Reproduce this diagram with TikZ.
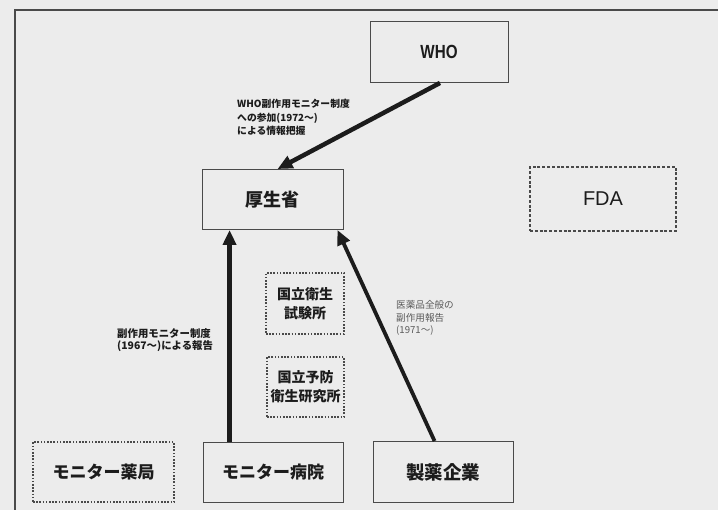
\documentclass[tikz,border=0pt]{standalone}
\usepackage{fontspec}
\setmainfont{Liberation Sans}
\newfontfamily\jp{Noto Sans CJK JP}
\usetikzlibrary{arrows.meta,calc}
\definecolor{paper}{HTML}{ECECEC}
\definecolor{ink}{HTML}{1C1C1C}
\definecolor{boxline}{HTML}{4A4A4A}
\definecolor{softink}{HTML}{5A5A5A}
\tikzset{
  solidbox/.style={draw=boxline, line width=0.9pt, fill=paper, minimum width=#1, minimum height=60pt, inner sep=0pt, text=ink},
  dotbox/.style={draw=boxline, line width=1.3pt, dash pattern=on 1.6pt off 1.6pt, fill=paper, inner sep=0pt, text=ink},
  dashbox/.style={draw=boxline, line width=1.1pt, dash pattern=on 3pt off 1.8pt, fill=paper, inner sep=0pt, text=ink},
  bigjp/.style={font={\jp\bfseries\fontsize{17}{20}\selectfont}},
  midjp/.style={font={\jp\bfseries\fontsize{14}{19}\selectfont}, align=center},
  lbl/.style={align=left, anchor=north west, inner sep=0pt, text=ink},
  lbllight/.style={font={\jp\fontsize{9.6}{12.5}\selectfont}, align=left, anchor=north west, inner sep=0pt, text=softink},
  thickarrow/.style={draw=ink, line width=#1, -{Triangle[length=15pt,width=13pt]}},
}
\begin{document}
\begin{tikzpicture}[x=1pt,y=-1pt]
\useasboundingbox (0,0) rectangle (718,510);
\fill[paper] (0,0) rectangle (718,510);
% frame
\draw[boxline, line width=1.5pt] (15,530) -- (15,10) -- (740,10);
% boxes
\node[solidbox=138pt, minimum height=61pt, font={\bfseries\fontsize{19}{21}\selectfont}] (who) at (439,52) {\scalebox{0.8}[1]{WHO}};
\node[solidbox=141pt, font={\jp\bfseries\fontsize{18}{20}\selectfont}] (kosei) at (272.5,199.5) {厚生省};
\node[dashbox, minimum width=146pt, minimum height=64pt, font={\fontsize{20}{22}\selectfont}] (fda) at (603,199) {FDA};
\node[dotbox, minimum width=78pt, minimum height=61pt, midjp] (eisei) at (305,303.5) {国立衛生\\試験所};
\node[dotbox, minimum width=77pt, minimum height=60pt, midjp] (yobo) at (305.5,387) {国立予防\\衛生研究所};
\node[dotbox, minimum width=141pt, minimum height=60pt, bigjp] (yakkyoku) at (103.5,472) {モニター薬局};
\node[solidbox=140pt, bigjp] (byoin) at (273,472) {モニター病院};
\node[solidbox=140pt, minimum height=61pt, font={\jp\bfseries\fontsize{18.5}{20}\selectfont}] (seiyaku) at (443,472) {製薬企業};
% arrows
\coordinate (a1s) at ($(who.south)+(1,0)$);
\coordinate (a1e) at ($(kosei.north)+(5,0)$);
\draw[thickarrow=4.5pt] (a1s) -- (a1e);
\coordinate (a2s) at ($(byoin.north west)+(27,0)$);
\coordinate (a2e) at ($(kosei.south west)+(28,0)$);
\draw[thickarrow=4.5pt] (a2s) -- (a2e);
\coordinate (a3s) at ($(seiyaku.north west)+(62,0)$);
\coordinate (a3e) at ($(kosei.south east)+(-6,0)$);
\draw[thickarrow=3.8pt] (a3s) -- (a3e);
% labels
\node[lbl, font={\jp\bfseries\fontsize{9.8}{13.5}\selectfont}] (l1) at (237,99) {WHO副作用モニター制度\\への参加(1972～)\\による情報把握};
\node[lbl, font={\jp\bfseries\fontsize{10.4}{12.5}\selectfont}] (l2) at (117,328) {副作用モニター制度\\(1967～)による報告};
\node[lbllight] (l3) at (396,300.5) {医薬品全般の\\副作用報告\\(1971～)};
\end{tikzpicture}
\end{document}
